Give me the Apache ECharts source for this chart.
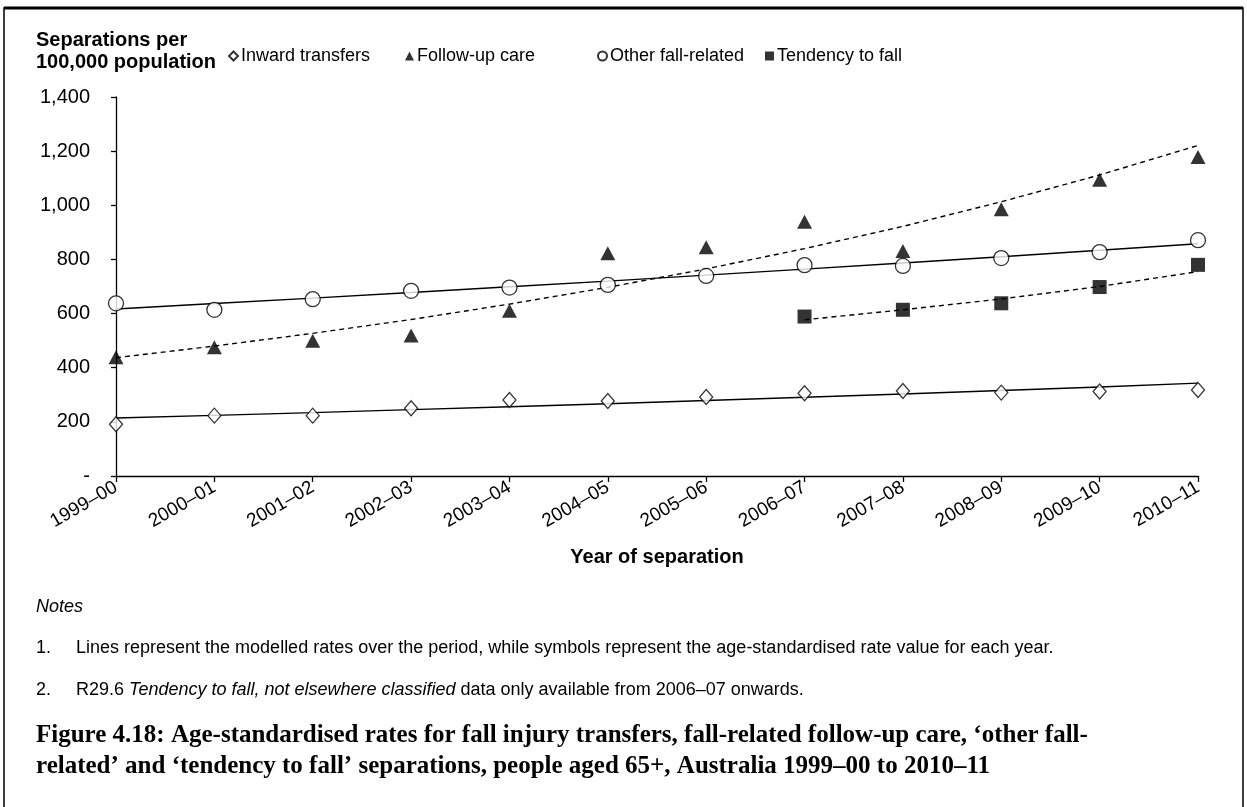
<!DOCTYPE html>
<html>
<head>
<meta charset="utf-8">
<script src="https://cdn.jsdelivr.net/npm/echarts@6/dist/echarts.min.js"></script>
<style>
  html, body { margin: 0; padding: 0; background: #fff; }
  #main { width: 1247px; height: 807px; }
</style>
</head>
<body>
<div id="main"></div>
<script>
// categories
const years = ['1999–00', '2000–01', '2001–02', '2002–03', '2003–04', '2004–05',
  '2005–06', '2006–07', '2007–08', '2008–09', '2009–10', '2010–11'];
const yTicks = [0, 200, 400, 600, 800, 1000, 1200, 1400];

// age-standardised rates (symbols)
const inwardRates = [191, 223, 223, 250, 281, 277, 292, 306, 314, 308, 312, 318];
const followUpRates = [439, 476, 500, 519, 610, 823, 845, 939, 831, 985, 1094, 1178];
const otherRates = [638, 614, 653, 684, 696, 706, 739, 779, 776, 805, 827, 871];
const tendencyRates = [null, null, null, null, null, null, null, 589, 614, 638, 698, 780];

// modelled rates (lines)
const inwardTrend = [214, 224, 234, 245, 256, 267, 279, 291, 303, 316, 329, 343];
const followUpTrend = [437, 480, 527, 578, 635, 697, 765, 840, 922, 1013, 1112, 1221];
const otherTrend = [617, 637, 657, 678, 699, 720, 742, 764, 787, 810, 834, 858];
const tendencyTrend = [null, null, null, null, null, null, null, 577, 614, 654, 700, 755];

const FONT = 'Liberation Sans, Arial, sans-serif';
const SERIF = 'Liberation Serif, serif';
const chart = echarts.init(document.getElementById('main'));

function trend(name, data, dashed) {
  return {
    name: name,
    type: 'line',
    data: data,
    symbol: 'none',
    silent: true,
    z: 1,
    lineStyle: { color: '#000', width: 1.4, type: dashed ? [5, 4] : 'solid' }
  };
}

function marks(name, data, symbol, size, filled) {
  return {
    name: name,
    type: 'scatter',
    data: data,
    symbol: symbol,
    symbolSize: size,
    z: 3,
    itemStyle: filled
      ? { color: '#000', borderColor: '#000', borderWidth: 0 }
      : { color: '#fff', borderColor: '#000', borderWidth: 1.3 }
  };
}

function legendAt(left, name) {
  return {
    left: left,
    top: 47,
    data: [name],
    itemWidth: 9,
    itemHeight: 9,
    itemGap: 0,
    padding: 0,
    selectedMode: false,
    textStyle: { fontFamily: FONT, fontSize: 18, color: '#000', padding: [0, 0, 0, -2] }
  };
}

chart.setOption({
  animation: false,
  backgroundColor: '#fff',
  textStyle: { fontFamily: FONT },
  legend: [
    legendAt(228, 'Inward transfers'),
    legendAt(405, 'Follow-up care'),
    legendAt(597, 'Other fall-related'),
    legendAt(765, 'Tendency to fall')
  ],
  grid: { left: 116, right: 49, top: 97, bottom: 331, containLabel: false },
  xAxis: {
    type: 'category',
    data: years,
    boundaryGap: false,
    axisLine: { lineStyle: { color: '#000', width: 1.3 } },
    axisTick: { show: true, length: 6, lineStyle: { color: '#000', width: 1.3 } },
    axisLabel: { rotate: 30, margin: 10, fontSize: 19, color: '#000', fontFamily: FONT },
    splitLine: { show: false }
  },
  yAxis: {
    type: 'value',
    min: yTicks[0],
    max: yTicks[yTicks.length - 1],
    interval: 200,
    axisLine: { show: true, lineStyle: { color: '#000', width: 1.3 } },
    axisTick: { show: true, length: 5, lineStyle: { color: '#000', width: 1.3 } },
    axisLabel: {
      margin: 26,
      fontSize: 20,
      color: '#000',
      fontFamily: FONT,
      formatter: function (v) { return v === 0 ? '-' : v.toLocaleString('en-US'); }
    },
    splitLine: { show: false }
  },
  series: [
    trend('inward-trend', inwardTrend, false),
    trend('followup-trend', followUpTrend, true),
    trend('other-trend', otherTrend, false),
    trend('tendency-trend', tendencyTrend, true),
    marks('Inward transfers', inwardRates, 'diamond', [13, 15], false),
    marks('Follow-up care', followUpRates, 'triangle', [15, 14], true),
    marks('Other fall-related', otherRates, 'circle', 15, false),
    marks('Tendency to fall', tendencyRates, 'rect', 14, true)
  ],
  graphic: [
    // frame
    { type: 'rect', shape: { x: 4, y: 8, width: 1239, height: 820 }, style: { fill: 'none', stroke: '#000', lineWidth: 1.5 }, silent: true },
    { type: 'line', shape: { x1: 4, y1: 8, x2: 1243, y2: 8 }, style: { stroke: '#000', lineWidth: 3 }, silent: true },
    // y axis title
    { type: 'text', x: 36, y: 40, style: { text: 'Separations per', font: 'bold 20px ' + FONT, fill: '#000', textVerticalAlign: 'middle' } },
    { type: 'text', x: 36, y: 62, style: { text: '100,000 population', font: 'bold 20px ' + FONT, fill: '#000', textVerticalAlign: 'middle' } },
    // x axis title
    { type: 'text', x: 657, y: 557, style: { text: 'Year of separation', font: 'bold 20px ' + FONT, fill: '#000', textAlign: 'center', textVerticalAlign: 'middle' } },
    // notes
    { type: 'text', x: 36, y: 607, style: { text: 'Notes', font: 'italic 18px ' + FONT, fill: '#000', textVerticalAlign: 'middle' } },
    { type: 'text', x: 36, y: 648, style: { text: '1.', font: '18px ' + FONT, fill: '#000', textVerticalAlign: 'middle' } },
    { type: 'text', x: 76, y: 648, style: { text: 'Lines represent the modelled rates over the period, while symbols represent the age-standardised rate value for each year.', font: '18px ' + FONT, fill: '#000', textVerticalAlign: 'middle' } },
    { type: 'text', x: 36, y: 690, style: { text: '2.', font: '18px ' + FONT, fill: '#000', textVerticalAlign: 'middle' } },
    {
      type: 'text', x: 76, y: 690,
      style: {
        text: '{n|R29.6 }{i|Tendency to fall, not elsewhere classified}{n| data only available from 2006–07 onwards.}',
        textVerticalAlign: 'middle',
        rich: {
          n: { fontFamily: FONT, fontSize: 18, fill: '#000' },
          i: { fontFamily: FONT, fontSize: 18, fontStyle: 'italic', fill: '#000' }
        }
      }
    },
    // caption
    { type: 'text', x: 36, y: 736, style: { text: 'Figure 4.18: Age-standardised rates for fall injury transfers, fall-related follow-up care, ‘other fall-', font: 'bold 25px ' + SERIF, fill: '#000', textVerticalAlign: 'middle' } },
    { type: 'text', x: 36, y: 767, style: { text: 'related’ and ‘tendency to fall’ separations, people aged 65+, Australia 1999–00 to 2010–11', font: 'bold 25px ' + SERIF, fill: '#000', textVerticalAlign: 'middle' } }
  ]
});
</script>
</body>
</html>
